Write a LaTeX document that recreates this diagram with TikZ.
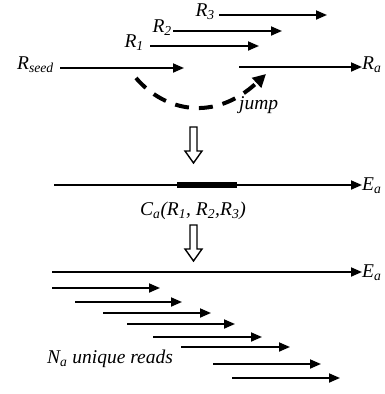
\documentclass[tikz,border=0pt]{standalone}
\usepackage{fontspec}
\setmainfont{Liberation Serif}
\usetikzlibrary{arrows.meta}
\tikzset{
  lbl/.style={font=\fontsize{19.5}{20}\selectfont\itshape, inner sep=0pt},
  rd/.style={line width=1.8pt, -{Triangle[length=11pt,width=9pt]}},
  jmp/.style={line width=4pt, dash pattern=on 14pt off 10pt, -{Triangle[length=13pt,width=13pt]}},
  hollow/.style={draw, line width=1.4pt, fill=white, line join=miter},
  seg/.style={line width=5.5pt}
}
\begin{document}
\begin{tikzpicture}[x=1pt,y=-1pt]
\useasboundingbox (0,0) rectangle (384,394);
\clip (0,0) rectangle (384,394);

% reads above the seed
\node[lbl, anchor=east] (r3) at (215,12) {R\textsubscript{3}};
\coordinate (r3s) at (219,15);
\coordinate (r3e) at (327,15);
\draw[rd] (r3s) -- (r3e);

\node[lbl, anchor=east] (r2) at (172,28) {R\textsubscript{2}};
\coordinate (r2s) at (173,31);
\coordinate (r2e) at (282,31);
\draw[rd] (r2s) -- (r2e);

\node[lbl, anchor=east] (r1) at (144,43) {R\textsubscript{1}};
\coordinate (r1s) at (150,46);
\coordinate (r1e) at (259,46);
\draw[rd] (r1s) -- (r1e);

\node[lbl, anchor=east] (rseed) at (54,65) {R\textsubscript{seed}};
\coordinate (rseeds) at (60,68);
\coordinate (rseede) at (184,68);
\draw[rd] (rseeds) -- (rseede);

\node[lbl, anchor=west] (ra) at (362,65) {R\textsubscript{a}};
\coordinate (ras) at (239,67);
\draw[rd] (ras) -- (ras -| ra.west);

% the jump
\coordinate (j0) at (136,78);
\coordinate (j1) at (266,74);
\draw[jmp] (j0) .. controls (165,112) and (215,122) .. (j1);
\node[lbl, anchor=west] (jump) at (239,105) {jump};

% first block arrow
\coordinate (h1) at (193.5,127);
\draw[hollow] (h1) ++(-3.5,0) -- ++(7,0) -- ++(0,24) -- ++(5,0) -- ++(-8.5,12) -- ++(-8.5,-12) -- ++(5,0) -- cycle;

% assembled extension
\node[lbl, anchor=west] (ea1) at (362,186) {E\textsubscript{a}};
\coordinate (ea1s) at (54,185);
\draw[rd] (ea1s) -- (ea1s -| ea1.west);
\coordinate (ca0) at (177,185);
\coordinate (ca1) at (237,185);
\draw[seg] (ca0) -- (ca1);

\node[lbl] (ca) at (193,211) {C\textsubscript{a}(R\textsubscript{1}, R\textsubscript{2},R\textsubscript{3})};

% second block arrow
\coordinate (h2) at (193.5,225);
\draw[hollow] (h2) ++(-3.5,0) -- ++(7,0) -- ++(0,24) -- ++(5,0) -- ++(-8.5,12) -- ++(-8.5,-12) -- ++(5,0) -- cycle;

\node[lbl, anchor=west] (ea2) at (362,273) {E\textsubscript{a}};
\coordinate (ea2s) at (52,272);
\draw[rd] (ea2s) -- (ea2s -| ea2.west);

% unique reads
\foreach \i/\xa/\xb/\yy in {1/52/160/288, 2/75/182/302, 3/103/211/313, 4/127/235/324,
                            5/153/262/337, 6/181/290/347, 7/213/321/364, 8/232/340/378} {
  \coordinate (u\i s) at (\xa,\yy);
  \coordinate (u\i e) at (\xb,\yy);
  \draw[rd] (u\i s) -- (u\i e);
}
\node[lbl, anchor=west] (na) at (47,359) {N\textsubscript{a} unique reads};
\end{tikzpicture}
\end{document}
